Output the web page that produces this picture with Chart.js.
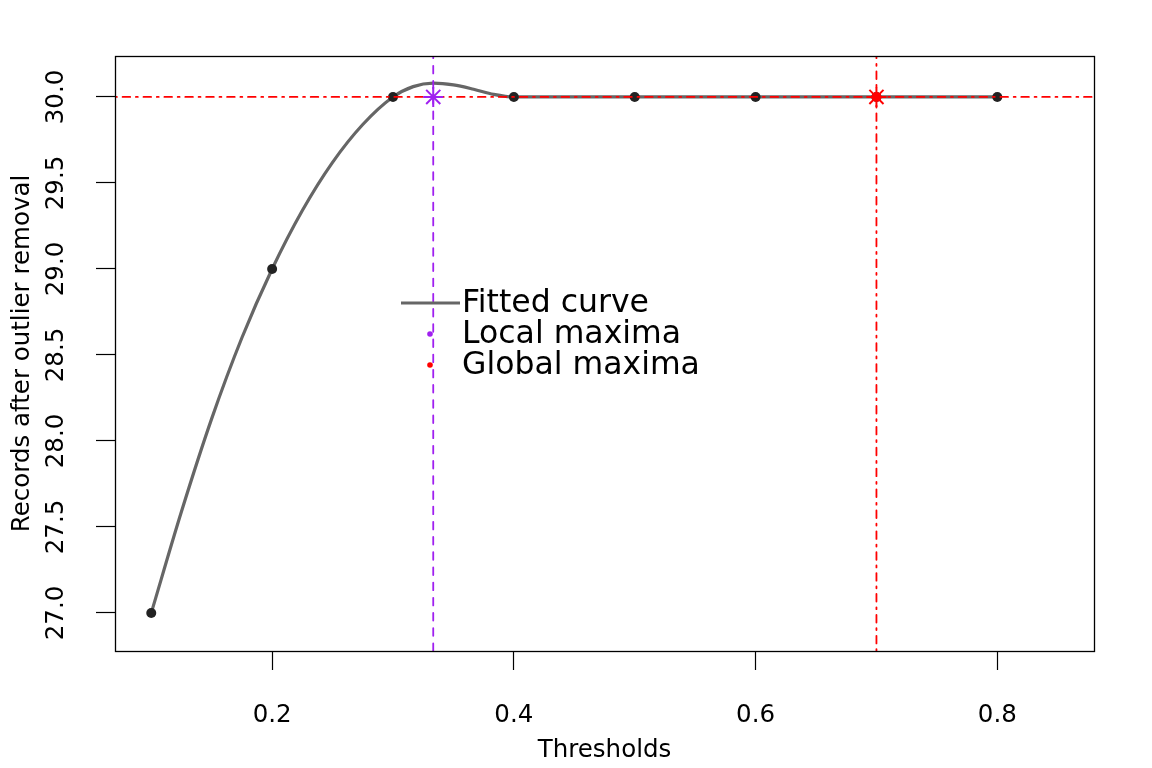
<!DOCTYPE html>
<html>
<head>
<meta charset="utf-8">
<script src="https://cdn.jsdelivr.net/npm/chart.js@4/dist/chart.umd.min.js"></script>
<style>
html,body{margin:0;padding:0;background:#fff;}
#c{display:block;}
</style>
</head>
<body>
<canvas id="c" width="1152" height="768"></canvas>
<script>
// ---- data ----
const thresholds = [0.1, 0.2, 0.3, 0.4, 0.5, 0.6, 0.7, 0.8];
const records = [27, 29, 30, 30, 30, 30, 30, 30];
const curveX = [0.1, 0.125, 0.15, 0.175, 0.2, 0.225, 0.25, 0.275, 0.3, 0.3167, 0.3333, 0.35, 0.3667, 0.3833, 0.4, 0.5, 0.6, 0.7, 0.8];
const curveY = [27.0, 27.59, 28.13, 28.6, 29.0, 29.34, 29.62, 29.84, 30.0, 30.06, 30.08, 30.07, 30.045, 30.015, 30.0, 30.0, 30.0, 30.0, 30.0];
const localMaxX = [0.3333];
const localMaxY = [30];
const globalMaxX = [0.7];
const globalMaxY = [30];
const xTicks = [0.2, 0.4, 0.6, 0.8];
const yTicks = [27.0, 27.5, 28.0, 28.5, 29.0, 29.5, 30.0];
const xMin = 0.07, xMax = 0.88;
const yMin = 26.779, yMax = 30.238;
const legendLabels = ['Fitted curve', 'Local maxima', 'Global maxima'];
const xTitle = 'Thresholds';
const yTitle = 'Records after outlier removal';

const FONT = 'DejaVu Sans';
const PURPLE = '#A020F0';
const RED = '#FF0000';
const GRAY = '#666666';

const zip = (xs, ys) => xs.map((x, i) => ({x: x, y: ys[i]}));

const boxPlugin = {
  id: 'box',
  afterDraw(chart) {
    const {ctx, chartArea: a} = chart;
    ctx.save();
    ctx.strokeStyle = '#000';
    ctx.lineWidth = 1.3;
    ctx.strokeRect(Math.round(a.left) + 0.5, Math.round(a.top) + 0.5, Math.round(a.right - a.left), Math.round(a.bottom - a.top));
    ctx.restore();
  }
};

const legendPlugin = {
  id: 'rlegend',
  afterDraw(chart) {
    const {ctx} = chart;
    const x0 = 401, lineEnd = 460, textX = 462, y0 = 303, step = 31;
    ctx.save();
    ctx.strokeStyle = GRAY;
    ctx.lineWidth = 3;
    ctx.beginPath();
    ctx.moveTo(x0, y0);
    ctx.lineTo(lineEnd, y0);
    ctx.stroke();
    const cols = [PURPLE, RED];
    for (let i = 0; i < 2; i++) {
      ctx.fillStyle = cols[i];
      ctx.beginPath();
      ctx.arc(430, y0 + step * (i + 1), 2.8, 0, Math.PI * 2);
      ctx.fill();
    }
    ctx.fillStyle = '#000';
    ctx.font = '31.5px "' + FONT + '"';
    ctx.textBaseline = 'middle';
    ctx.textAlign = 'left';
    legendLabels.forEach((t, i) => ctx.fillText(t, textX, y0 + step * i + 1));
    ctx.restore();
  }
};

const dotdash = [1.9, 5.7, 7.6, 5.7];
const dashed = [7.6, 7.6];
const AXFONT = 24.5;

new Chart(document.getElementById('c'), {
  type: 'line',
  data: {
    datasets: [
      {
        data: zip([localMaxX[0], localMaxX[0]], [yMin, yMax]),
        borderColor: PURPLE, borderWidth: 1.8, borderDash: dashed, borderCapStyle: 'round',
        pointRadius: 0, fill: false
      },
      {
        data: zip([globalMaxX[0], globalMaxX[0]], [yMin, yMax]),
        borderColor: RED, borderWidth: 1.8, borderDash: dotdash, borderCapStyle: 'round',
        pointRadius: 0, fill: false
      },
      {
        data: zip(globalMaxX, globalMaxY),
        showLine: false, pointStyle: 'star', pointRadius: 10, pointBorderWidth: 2,
        pointBorderColor: RED, pointBackgroundColor: RED, borderColor: RED
      },
      {
        data: zip(globalMaxX, globalMaxY),
        showLine: false, pointStyle: 'circle', pointRadius: 5, pointBorderWidth: 0,
        pointBackgroundColor: RED
      },
      {
        data: zip(localMaxX, localMaxY),
        showLine: false, pointStyle: 'star', pointRadius: 10, pointBorderWidth: 2,
        pointBorderColor: PURPLE, borderColor: PURPLE
      },
      {
        data: zip([xMin, xMax], [globalMaxY[0], globalMaxY[0]]),
        borderColor: RED, borderWidth: 1.8, borderDash: dotdash, borderCapStyle: 'round',
        pointRadius: 0, fill: false
      },
      {
        data: zip(thresholds, records),
        showLine: false, pointStyle: 'circle', pointRadius: 5, pointBorderWidth: 0,
        pointBackgroundColor: '#222222'
      },
      {
        data: zip(curveX, curveY),
        borderColor: GRAY, borderWidth: 3.2, pointRadius: 0, fill: false,
        cubicInterpolationMode: 'monotone'
      }
    ]
  },
  options: {
    responsive: false,
    animation: false,
    devicePixelRatio: 1,
    layout: {padding: {top: 56, right: 58, left: 0, bottom: 0}},
    plugins: {legend: {display: false}, tooltip: {enabled: false}},
    scales: {
      x: {
        type: 'linear', min: xMin, max: xMax,
        afterBuildTicks: s => { s.ticks = xTicks.map(v => ({value: v})); },
        afterFit: s => { s.height = 117; },
        grid: {display: true, drawOnChartArea: false, drawTicks: true, tickLength: 19, color: '#000', tickWidth: 1.2},
        border: {display: true, color: '#000', width: 1},
        ticks: {
          color: '#000', font: {family: FONT, size: AXFONT}, padding: 31, maxRotation: 0,
          callback: v => v.toFixed(1)
        },
        title: {display: true, text: xTitle, color: '#000', font: {family: FONT, size: AXFONT}, padding: {top: 0, bottom: 3}}
      },
      y: {
        type: 'linear', min: yMin, max: yMax,
        afterBuildTicks: s => { s.ticks = yTicks.map(v => ({value: v})); },
        afterFit: s => { s.width = 115; },
        grid: {display: true, drawOnChartArea: false, drawTicks: true, tickLength: 19, color: '#000', tickWidth: 1.2},
        border: {display: true, color: '#000', width: 1},
        ticks: {
          color: '#000', font: {family: FONT, size: AXFONT}, padding: 12,
          minRotation: 90, maxRotation: 90, crossAlign: 'center',
          callback: v => v.toFixed(1)
        },
        title: {display: true, text: yTitle, color: '#000', font: {family: FONT, size: AXFONT}, padding: {top: 8, bottom: 0}}
      }
    }
  },
  plugins: [boxPlugin, legendPlugin]
});
</script>
</body>
</html>
